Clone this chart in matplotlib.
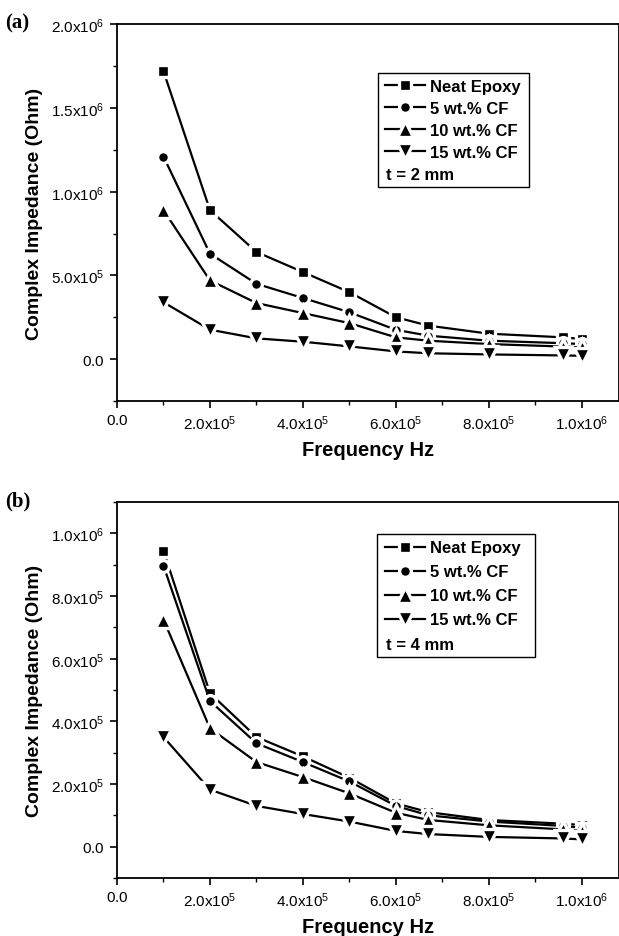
import numpy as np
import matplotlib
matplotlib.use("Agg")
import matplotlib.pyplot as plt
from matplotlib.patches import Rectangle
from matplotlib.ticker import FuncFormatter, MultipleLocator

plt.rcParams["font.family"] = ["Liberation Sans", "DejaVu Sans"]

# frequency (Hz)
freq = [1e5, 2e5, 3e5, 4e5, 5e5, 6e5, 6.7e5, 8e5, 9.6e5, 1e6]
labels = ["Neat Epoxy", "5 wt.% CF", "10 wt.% CF", "15 wt.% CF"]
markers = ["s", "o", "^", "v"]
msizes = [8.3, 8.5, 11.5, 11.5]

# (a) t = 2 mm
imp_a_neat = [1.72e6, 0.89e6, 0.64e6, 0.52e6, 0.40e6, 0.25e6, 0.20e6, 0.152e6, 0.13e6, 0.12e6]
imp_a_5 = [1.21e6, 0.63e6, 0.45e6, 0.365e6, 0.28e6, 0.175e6, 0.14e6, 0.11e6, 0.095e6, 0.09e6]
imp_a_10 = [0.89e6, 0.47e6, 0.335e6, 0.275e6, 0.215e6, 0.13e6, 0.11e6, 0.09e6, 0.075e6, 0.07e6]
imp_a_15 = [0.34e6, 0.176e6, 0.124e6, 0.104e6, 0.076e6, 0.046e6, 0.035e6, 0.028e6, 0.022e6, 0.02e6]

# (b) t = 4 mm
imp_b_neat = [0.945e6, 0.49e6, 0.35e6, 0.288e6, 0.22e6, 0.138e6, 0.11e6, 0.085e6, 0.073e6, 0.069e6]
imp_b_5 = [0.897e6, 0.465e6, 0.33e6, 0.27e6, 0.208e6, 0.13e6, 0.10e6, 0.08e6, 0.066e6, 0.06e6]
imp_b_10 = [0.725e6, 0.378e6, 0.27e6, 0.222e6, 0.17e6, 0.108e6, 0.085e6, 0.068e6, 0.055e6, 0.05e6]
imp_b_15 = [0.35e6, 0.182e6, 0.13e6, 0.104e6, 0.08e6, 0.05e6, 0.04e6, 0.031e6, 0.026e6, 0.023e6]


def sci(v, pos):
    if abs(v) < 1e-9:
        return r"$\mathregular{0.0}$"
    e = int(np.floor(np.log10(abs(v)) + 1e-9))
    m = v / 10 ** e
    return r"$\mathregular{%.1fx10^{%d}}$" % (m, e)


def panel(ax, series, ylim, ymajor, yminor, tag, thick, leg_anchor, lspace, tpos, box):
    for y, m, ms, lab in zip(series, markers, msizes, labels):
        ax.plot(freq, y, color="black", lw=1.6, marker=m, ms=ms,
                mfc="black", mec="white", mew=2.4, label=lab, clip_on=False)
    ax.set_xlim(0, 1.08e6)
    ax.set_ylim(*ylim)
    ax.xaxis.set_major_locator(MultipleLocator(2e5))
    ax.xaxis.set_minor_locator(MultipleLocator(1e5))
    ax.yaxis.set_major_locator(MultipleLocator(ymajor))
    ax.yaxis.set_minor_locator(MultipleLocator(yminor))
    ax.xaxis.set_major_formatter(FuncFormatter(sci))
    ax.yaxis.set_major_formatter(FuncFormatter(sci))
    ax.tick_params(which="major", direction="out", length=5, width=1.2,
                   labelsize=11, pad=4)
    ax.tick_params(which="minor", direction="out", length=3, width=1.0)
    for s in ax.spines.values():
        s.set_linewidth(1.3)
    ax.set_xlabel("Frequency Hz", fontsize=14.5, fontweight="bold", labelpad=6)
    ax.set_ylabel("Complex Impedance (Ohm)", fontsize=14, fontweight="bold", labelpad=6)
    ax.legend(loc="upper left", bbox_to_anchor=leg_anchor, frameon=False,
              borderpad=0, borderaxespad=0, handlelength=2.4,
              handletextpad=0.3, labelspacing=lspace,
              prop={"size": 12, "weight": "bold"})
    ax.text(tpos[0], tpos[1], thick, transform=ax.transAxes, fontsize=12,
            fontweight="bold", va="center", ha="left")
    ax.add_patch(Rectangle((box[0], box[1]), box[2] - box[0], box[3] - box[1],
                           transform=ax.transAxes, fill=False, lw=1.0,
                           edgecolor="black"))
    ax.figure.text(0.008, ax.get_position().y1 + 0.002, tag, fontsize=15,
                   fontweight="bold", family="Liberation Serif", va="center")


fig = plt.figure(figsize=(6.19, 9.37), dpi=100)
ax1 = fig.add_axes([0.189, 0.571, 0.811, 0.402])
ax2 = fig.add_axes([0.189, 0.062, 0.811, 0.401])

panel(ax1, [imp_a_neat, imp_a_5, imp_a_10, imp_a_15], (-2.5e5, 2.0e6), 5e5, 2.5e5,
      "(a)", "t = 2 mm", (0.534, 0.856), 0.42, (0.536, 0.602), (0.52, 0.568, 0.821, 0.87))
panel(ax2, [imp_b_neat, imp_b_5, imp_b_10, imp_b_15], (-1e5, 1.1e6), 2e5, 1e5,
      "(b)", "t = 4 mm", (0.534, 0.898), 0.54, (0.536, 0.62), (0.518, 0.588, 0.833, 0.915))

fig.savefig("out.png", dpi=100)
